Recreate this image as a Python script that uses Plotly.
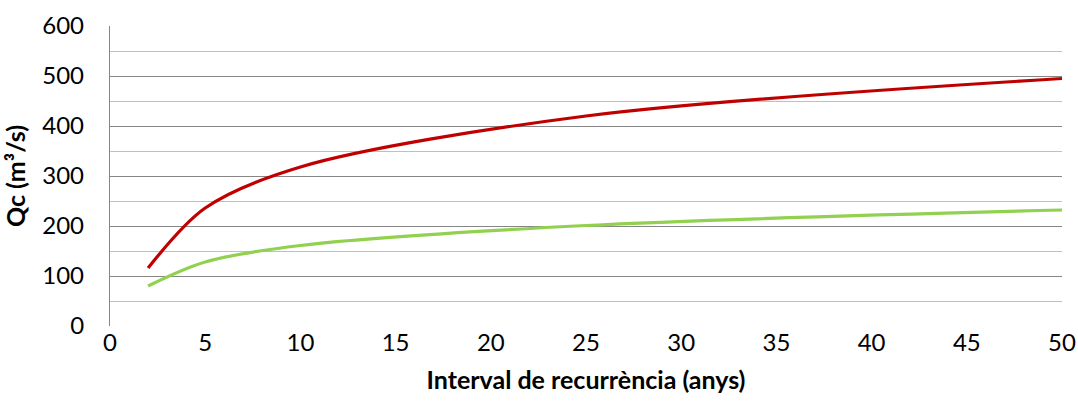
import plotly.graph_objects as go

# return period (years) and flow (m3/s)
periods = [2, 5, 10, 25, 50]
qc_red = [116, 236, 318, 420, 495]
qc_green = [80, 128, 161, 201, 232]

x_ticks = list(range(0, 51, 5))
y_ticks = list(range(0, 601, 100))

fig = go.Figure()
fig.add_trace(go.Scatter(x=periods, y=qc_red, mode="lines",
                         line=dict(color="#C00000", width=3.2, shape="spline", smoothing=0.9)))
fig.add_trace(go.Scatter(x=periods, y=qc_green, mode="lines",
                         line=dict(color="#92D050", width=3.2, shape="spline", smoothing=0.9)))

fig.update_layout(
    width=1078, height=412,
    margin=dict(l=110, r=16, t=26, b=86),
    paper_bgcolor="white", plot_bgcolor="white",
    showlegend=False,
    font=dict(family="Lato, Open Sans, sans-serif", size=24, color="#000000"),
)
fig.update_xaxes(
    range=[0, 50], tickvals=x_ticks, showgrid=False, zeroline=False,
    showline=False, ticks="", ticklen=0, automargin=False,
    title=dict(text="<b>Interval de recurrència (anys)</b>", font=dict(size=25), standoff=16),
)
fig.update_yaxes(
    range=[0, 600], tickvals=y_ticks, showgrid=True, gridcolor="#868686", gridwidth=1.3,
    minor=dict(dtick=50, showgrid=True, gridcolor="#BFBFBF", gridwidth=1.3),
    zeroline=False, showline=True, linecolor="#868686", linewidth=1.3, ticks="",
    ticklabelstandoff=20, automargin=False,
    title=dict(text="<b>Qc (m³/s)</b>", font=dict(size=25), standoff=12),
)
# drop the default 8px page margin so the figure sits at the window's corner
fig.write_html(
    "out.html",
    config={"displayModeBar": False},
    post_script="document.body.style.margin='0';document.body.style.overflow='hidden';",
)
